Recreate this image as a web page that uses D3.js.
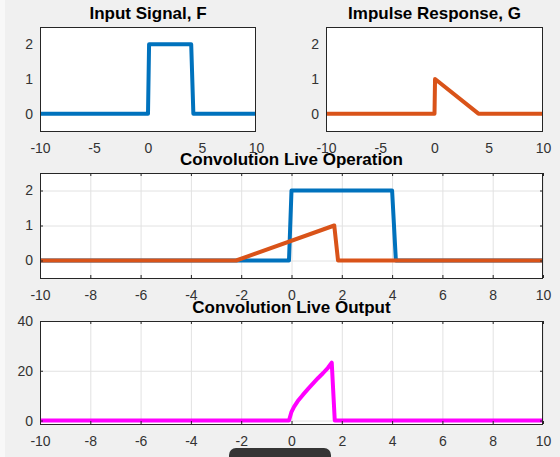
<!DOCTYPE html>
<html lang="en">
<head>
	<meta charset="UTF-8">
	<title>Convolution</title>
	<style>
		body { margin: 0; background: #f0f0f0; }
		.tick text { fill: #333; font: 14px "Liberation Sans", Arial, sans-serif; }
		.title { fill: #000; font: bold 17px "Liberation Sans", Arial, sans-serif; }
		.grid line { stroke: #e2e2e2; }
		.grid path { display: none; }
		.ax path { display: none; }
		.ax line { stroke: #262626; }
	</style>
	<script src="https://cdn.jsdelivr.net/npm/d3@7/dist/d3.min.js"></script>
</head>
<body>
<script>
	// tick values
	var xTicksTop = [-10, -5, 0, 5, 10];
	var xTicksWide = [-10, -8, -6, -4, -2, 0, 2, 4, 6, 8, 10];
	var yTicksSignal = [0, 1, 2];
	var yTicksOutput = [0, 20, 40];

	// input signal F
	var fX = [-10, 0, 0.1, 4, 4.2, 10];
	var fY = [0, 0, 2, 2, 0, 0];

	// impulse response G
	var gX = [-10, 0, 0.05, 4.05, 10];
	var gY = [0, 0, 1, 0, 0];

	// live operation: F and flipped, shifted G
	var opFX = [-10, -0.1, 0, 4, 4.15, 10];
	var opFY = [0, 0, 2, 2, 0, 0];
	var opGX = [-10, -2.2, 1.7, 1.85, 10];
	var opGY = [0, 0, 1, 0, 0];

	// live output so far
	var outX = [-10, -0.1, 0, 0.1, 0.25, 0.45, 0.65, 0.85, 1.05, 1.25, 1.45, 1.6, 1.72, 10];
	var outY = [0, 0, 3.5, 5.5, 7.8, 10.3, 12.6, 14.8, 17, 19, 21.2, 23.3, 0, 0];

	var blue = "#0072bd", orange = "#d95319", magenta = "#ff00ff";

	var svg = d3.select("body").append("svg")
		.attr("width", 560)
		.attr("height", 457);

	svg.append("rect").attr("width", 560).attr("height", 457).attr("fill", "#f0f0f0");
	svg.append("rect").attr("width", 5).attr("height", 457).attr("fill", "#f8f8f8");

	// plain hyphen minus like the original
	var fmt = function(d) { return String(d); };

	function panel(o) {
		var w = o.right - o.left, h = o.bottom - o.top;
		var x = d3.scaleLinear().domain([-10, 10]).range([0, w]);
		var y = d3.scaleLinear().domain(o.yDomain).range([h, 0]);
		var tick = o.ticks ? -3 : 0;

		var g = svg.append("g")
			.attr("transform", "translate(" + o.left + "," + o.top + ")");

		g.append("rect")
			.attr("width", w)
			.attr("height", h)
			.attr("fill", "#fff");

		if (o.grid) {
			g.append("g").attr("class", "grid")
				.call(d3.axisBottom(x).tickValues(o.xTicks).tickSize(h).tickFormat(""));
			g.append("g").attr("class", "grid")
				.call(d3.axisLeft(y).tickValues(o.yTicks).tickSize(-w).tickFormat(""));
		}

		var line = d3.line()
			.x(function(d) { return x(d[0]); })
			.y(function(d) { return y(d[1]); });

		o.series.forEach(function(s) {
			g.append("path")
				.datum(d3.zip(s.x, s.y))
				.attr("d", line)
				.attr("fill", "none")
				.attr("stroke", s.color)
				.attr("stroke-width", 4)
				.attr("stroke-linejoin", "round");
		});

		g.append("g").attr("class", "ax")
			.attr("transform", "translate(0," + h + ")")
			.call(d3.axisBottom(x).tickValues(o.xTicks).tickFormat(fmt)
				.tickSizeInner(tick).tickSizeOuter(0).tickPadding(12.5));
		g.append("g").attr("class", "ax")
			.call(d3.axisLeft(y).tickValues(o.yTicks).tickFormat(fmt)
				.tickSizeInner(tick).tickSizeOuter(0).tickPadding(7));
		if (o.ticks) {
			g.append("g").attr("class", "ax")
				.call(d3.axisTop(x).tickValues(o.xTicks).tickSizeInner(tick).tickSizeOuter(0).tickFormat(""));
			g.append("g").attr("class", "ax")
				.attr("transform", "translate(" + w + ",0)")
				.call(d3.axisRight(y).tickValues(o.yTicks).tickSizeInner(tick).tickSizeOuter(0).tickFormat(""));
		}
		g.selectAll(".tick text").attr("font-size", null).attr("font-family", null);

		g.append("rect")
			.attr("x", 0.5).attr("y", 0.5)
			.attr("width", w - 1).attr("height", h)
			.attr("fill", "none")
			.attr("stroke", "#262626");

		g.append("text")
			.attr("class", "title")
			.attr("x", w / 2)
			.attr("y", -8.5)
			.attr("text-anchor", "middle")
			.text(o.title);
	}

	panel({left: 40, right: 256, top: 27, bottom: 131, yDomain: [-0.5, 2.5],
		xTicks: xTicksTop, yTicks: yTicksSignal, grid: false, ticks: false,
		title: "Input Signal, F", series: [{x: fX, y: fY, color: blue}]});

	panel({left: 326, right: 543, top: 27, bottom: 131, yDomain: [-0.5, 2.5],
		xTicks: xTicksTop, yTicks: yTicksSignal, grid: false, ticks: false,
		title: "Impulse Response, G", series: [{x: gX, y: gY, color: orange}]});

	panel({left: 40, right: 543, top: 173, bottom: 278, yDomain: [-0.5, 2.5],
		xTicks: xTicksWide, yTicks: yTicksSignal, grid: true, ticks: true,
		title: "Convolution Live Operation",
		series: [{x: opFX, y: opFY, color: blue}, {x: opGX, y: opGY, color: orange}]});

	panel({left: 40, right: 543, top: 321, bottom: 424, yDomain: [-1.4, 40],
		xTicks: xTicksWide, yTicks: yTicksOutput, grid: true, ticks: true,
		title: "Convolution Live Output", series: [{x: outX, y: outY, color: magenta}]});

	// player control bar at the bottom edge
	svg.append("rect")
		.attr("x", 229).attr("y", 448)
		.attr("width", 102).attr("height", 20)
		.attr("rx", 7)
		.attr("fill", "#353535");
</script>
</body>
</html>
